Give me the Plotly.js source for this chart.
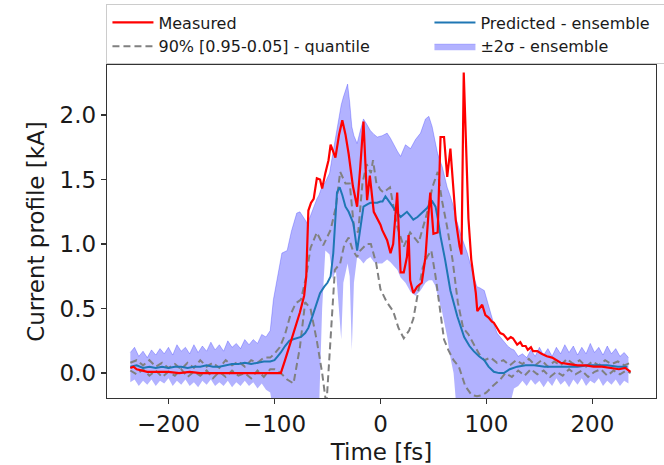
<!DOCTYPE html>
<html>
<head>
<meta charset="utf-8">
<script src="https://cdn.plot.ly/plotly-3.0.1.min.js"></script>
<style>html,body{margin:0;padding:0;background:#fff;}#chart{width:664px;height:465px;}</style>
</head>
<body>
<div id="chart"></div>
<script>
// ---- Measured current profile ----
const tMeasured = [-236,-233,-230,-226,-220,-210,-200,-190,-180,-170,-160,-150,-140,-130,-120,-110,-100,-94,-90,-85,-80,-76,-72,-70,-68,-65.5,-63,-60,-57,-55,-52,-49,-47,-44.5,-42.5,-39,-36,-33,-30,-26,-22,-19,-16,-12.6,-10,-6.3,-3,0,1.6,4,6.3,9.5,12,15.8,19,22,25,26.6,28,31,34.6,39,42.5,45,47,50,54,56.7,60,63,66,71,74.7,76.5,78.6,83,85.7,90,91.4,96,99,102,105,107,110,113,116,120,123,125,129,132,134,137,139,142,144,148,152,157,162,166,170,178,186,194,201,209,217,225,231,236];
const measured = [0.04,0.05,0.03,0.02,0.01,0.01,0.01,0.0,0.01,0.0,0.0,0.0,0.0,0.0,0.0,0.0,0.0,0.0,0.1,0.23,0.35,0.47,0.6,0.75,1.26,1.32,1.35,1.51,1.5,1.43,1.55,1.65,1.77,1.72,1.67,1.85,1.96,1.85,1.70,1.45,1.29,1.6,1.95,1.34,1.53,1.25,1.2,1.15,1.11,1.07,1.03,0.93,1.0,1.40,0.78,0.78,0.9,1.07,0.72,0.62,0.67,0.70,0.90,1.2,1.40,1.08,1.09,1.83,1.83,1.52,1.74,1.19,0.98,0.92,2.33,1.2,0.88,0.62,0.48,0.53,0.45,0.43,0.40,0.39,0.35,0.31,0.30,0.26,0.28,0.27,0.22,0.24,0.21,0.21,0.18,0.2,0.17,0.17,0.15,0.13,0.12,0.1,0.08,0.07,0.06,0.06,0.05,0.05,0.04,0.03,0.04,0.01];

// ---- Predicted (ensemble mean) ----
const tPredicted = [-236,-230,-224,-218,-212,-206,-200,-194,-188,-182,-176,-170,-164,-158,-152,-146,-140,-134,-128,-122,-116,-110,-104,-100,-97,-94,-90,-86,-83,-79,-75,-71,-68,-65,-63,-60,-57,-53,-50,-47,-44.5,-41,-38.5,-36,-33,-30,-28,-25.5,-22,-19,-16,-12,-9.5,-6,-3,0,2,4.7,8,12,16,19,22,25,28,31,35,39,44,49,52,54.5,56.7,61,66,72.5,79,84,88,93,98,102,107,112,116.5,122,129,137,145,155,164,175,186,196,206,214,224,233];
const predicted = [0.05,0.06,0.04,0.05,0.04,0.05,0.04,0.05,0.05,0.04,0.05,0.05,0.06,0.05,0.05,0.06,0.07,0.07,0.08,0.07,0.08,0.09,0.09,0.10,0.13,0.16,0.21,0.25,0.26,0.27,0.28,0.31,0.35,0.42,0.47,0.55,0.62,0.67,0.70,0.75,0.93,1.40,1.44,1.38,1.29,1.25,1.21,1.16,0.95,1.13,1.29,1.31,1.32,1.32,1.32,1.33,1.33,1.37,1.33,1.29,1.24,1.21,1.23,1.25,1.22,1.19,1.21,1.24,1.28,1.33,1.29,1.18,1.06,0.88,0.64,0.44,0.28,0.21,0.17,0.13,0.10,0.05,0.01,0.0,0.0,0.03,0.05,0.06,0.06,0.05,0.05,0.05,0.05,0.06,0.06,0.06,0.05,0.05];

// ---- 90% quantile band edges (0.95 and 0.05) ----
const tQ95 = [-236,-230,-224,-218,-212,-206,-200,-194,-188,-182,-176,-170,-164,-158,-152,-146,-140,-134,-128,-122,-116,-110,-104,-100,-95,-90,-85,-80,-75,-70,-66,-60,-54,-47,-42,-38,-33,-29,-25,-21,-17,-13,-9,-7,-4,0,3,9,16,22,28,36,44,49,54,58,63,68,73,78,83,88,93,98,104,110,116,122,128,134,140,146,152,158,164,170,176,182,188,194,200,206,212,218,224,230,236];
const q95 = [0.08,0.10,0.06,0.10,0.05,0.08,0.04,0.07,0.03,0.08,0.04,0.10,0.05,0.08,0.04,0.10,0.06,0.09,0.05,0.10,0.08,0.12,0.12,0.15,0.20,0.30,0.45,0.54,0.57,0.75,0.97,1.09,0.99,1.11,1.29,1.56,1.47,1.47,1.13,1.09,1.47,1.62,1.55,1.65,1.48,1.42,1.40,1.44,1.13,0.98,1.09,1.01,1.24,1.44,1.56,1.34,1.13,0.88,0.55,0.35,0.30,0.22,0.15,0.10,0.12,0.08,0.10,0.06,0.10,0.07,0.11,0.06,0.10,0.05,0.09,0.06,0.11,0.07,0.10,0.05,0.09,0.06,0.10,0.07,0.09,0.06,0.08];
const tQ05 = [-236,-230,-224,-218,-212,-206,-200,-194,-188,-182,-176,-170,-164,-158,-152,-146,-140,-134,-128,-122,-116,-110,-104,-100,-94,-88,-82,-76,-71,-66,-60,-55,-51,-47,-43,-38,-34,-30,-26,-22,-19,-13,-9,-4,0,6,12,17,22,27,31,36,40,44,48,52,56,60,64,69,74,80,86,91,96,100,106,113,118,124,130,136,142,148,154,160,166,172,178,184,190,196,202,208,214,220,226,232,236];
const q05 = [0.02,-0.01,0.03,-0.02,0.02,-0.03,0.01,-0.02,0.03,-0.03,0.01,-0.02,0.02,-0.04,0.01,-0.03,0.02,-0.02,0.0,-0.04,0.02,-0.03,0.03,0.03,0.0,-0.05,-0.08,0.2,0.55,0.5,0.25,0.0,-0.25,0.3,0.8,0.85,1.0,1.05,0.95,0.9,0.95,1.0,1.0,0.85,0.65,0.55,0.48,0.35,0.27,0.33,0.42,0.65,0.82,0.9,0.95,0.75,0.5,0.26,0.18,0.1,0.05,-0.1,-0.17,-0.18,-0.17,-0.15,-0.1,-0.05,0.0,-0.03,0.02,-0.02,0.03,-0.01,0.02,-0.03,0.01,-0.02,0.03,-0.01,0.02,-0.03,0.01,0.03,-0.02,0.02,-0.01,0.02,0.0];

// ---- ±2σ ensemble band ----
const tBand = [-236,-232,-228,-224,-220,-216,-212,-208,-204,-200,-196,-192,-188,-184,-180,-176,-172,-168,-164,-160,-156,-152,-148,-144,-140,-136,-132,-128,-124,-120,-116,-112,-108,-104,-101,-97,-93,-88,-84,-79,-76,-72,-69,-66,-63,-60,-58,-55,-52,-48,-45,-42,-39,-37,-35,-31,-29,-27,-25,-22,-19,-16,-13,-9.5,-6,-3,1.6,6.3,9.5,12.6,16,19,23.6,28.4,33,37.8,42.5,45.7,48.8,51.5,54,58.3,63,66,69,72,75.6,82,85,88,91,94,98,101,104,107,110,115,120,123,126,130,134,138,142,146,150,154,158,162,166,170,174,178,182,186,190,194,198,202,206,210,214,218,222,226,230,234];
const bandUpper = [0.16,0.20,0.13,0.17,0.12,0.18,0.14,0.19,0.15,0.20,0.14,0.22,0.17,0.20,0.15,0.22,0.16,0.21,0.17,0.24,0.18,0.22,0.17,0.25,0.20,0.23,0.19,0.26,0.22,0.26,0.23,0.30,0.28,0.33,0.57,0.75,0.93,0.95,1.10,1.24,1.25,1.20,1.16,1.22,1.29,1.35,1.38,1.45,1.48,1.55,1.70,1.85,2.00,2.08,2.14,2.24,2.10,1.91,1.84,1.78,1.88,1.97,1.93,1.88,1.85,1.83,1.84,1.86,1.82,1.77,1.72,1.68,1.77,1.74,1.81,1.86,1.97,1.99,1.91,1.80,1.70,1.60,1.44,1.37,1.29,1.18,1.08,0.93,0.83,0.75,0.67,0.66,0.64,0.55,0.46,0.38,0.31,0.26,0.21,0.19,0.18,0.13,0.15,0.12,0.18,0.13,0.20,0.14,0.19,0.13,0.20,0.15,0.22,0.16,0.21,0.14,0.20,0.15,0.23,0.16,0.20,0.14,0.21,0.15,0.19,0.13,0.16,0.12];
const bandLower = [-0.07,-0.05,-0.10,-0.06,-0.09,-0.05,-0.10,-0.06,-0.08,-0.04,-0.10,-0.06,-0.09,-0.05,-0.10,-0.07,-0.11,-0.06,-0.09,-0.05,-0.10,-0.07,-0.10,-0.06,-0.11,-0.07,-0.10,-0.06,-0.10,-0.07,-0.12,-0.08,-0.13,-0.15,-0.30,-0.30,-0.30,-0.30,-0.30,-0.30,-0.30,-0.30,-0.30,-0.30,-0.30,-0.30,-0.30,0.50,0.95,0.92,0.73,0.80,0.50,0.26,0.70,0.85,0.75,0.18,0.70,0.90,0.88,0.85,0.88,0.90,0.86,0.85,0.85,0.88,0.86,0.83,0.80,0.74,0.70,0.63,0.60,0.64,0.70,0.72,0.72,0.68,0.60,0.47,0.28,0.12,0.0,-0.30,-0.30,-0.30,-0.30,-0.30,-0.30,-0.30,-0.30,-0.30,-0.30,-0.30,-0.30,-0.30,-0.30,-0.22,-0.12,-0.10,-0.06,-0.10,-0.05,-0.09,-0.06,-0.11,-0.06,-0.10,-0.04,-0.09,-0.06,-0.11,-0.05,-0.09,-0.04,-0.10,-0.06,-0.08,-0.04,-0.10,-0.06,-0.09,-0.05,-0.10,-0.06,-0.08];

const xTicks = [-200,-100,0,100,200];
const yTicks = [0,0.5,1.0,1.5,2.0];

const FONT = 'DejaVu Sans, sans-serif';
const bandColor = 'rgba(0,0,255,0.3)';

const traces = [
  {x: tBand, y: bandLower, type: 'scatter', mode: 'lines', line: {width: 0, color: bandColor},
   showlegend: false, hoverinfo: 'skip'},
  {x: tBand, y: bandUpper, type: 'scatter', mode: 'lines', fill: 'tonexty', fillcolor: bandColor,
   line: {width: 0.8, color: bandColor}, name: '±2σ - ensemble', legendrank: 4},
  {x: tQ95, y: q95, type: 'scatter', mode: 'lines', line: {color: '#808080', width: 2, dash: '7px,4px'},
   name: '90% [0.95-0.05] - quantile', legendrank: 3},
  {x: tQ05, y: q05, type: 'scatter', mode: 'lines', line: {color: '#808080', width: 2, dash: '7px,4px'},
   showlegend: false},
  {x: tPredicted, y: predicted, type: 'scatter', mode: 'lines', line: {color: '#1f77b4', width: 2},
   name: 'Predicted - ensemble', legendrank: 2},
  {x: tMeasured, y: measured, type: 'scatter', mode: 'lines', line: {color: '#ff0000', width: 2.2},
   name: 'Measured', legendrank: 1}
];

const axisCommon = {
  showline: true, mirror: true, linecolor: '#333333', linewidth: 1.3,
  ticks: 'outside', ticklen: 5, tickwidth: 1.3, tickcolor: '#333333',
  showgrid: false, zeroline: false,
  tickfont: {family: FONT, size: 23, color: '#1a1a1a'}
};

const layout = {
  width: 664, height: 465,
  margin: {l: 107, r: 8, t: 65, b: 67, autoexpand: false},
  paper_bgcolor: '#ffffff', plot_bgcolor: '#ffffff',
  font: {family: FONT, color: '#1a1a1a'},
  xaxis: Object.assign({}, axisCommon, {
    range: [-258, 260], tickvals: xTicks,
    title: {text: 'Time [fs]', font: {family: FONT, size: 23, color: '#1a1a1a'}, standoff: 8}
  }),
  yaxis: Object.assign({}, axisCommon, {
    range: [-0.193, 2.388], tickvals: yTicks, tickformat: '.1f',
    title: {text: 'Current profile [kA]', font: {family: FONT, size: 23, color: '#1a1a1a'}, standoff: 8}
  }),
  legend: {
    orientation: 'h', x: -0.001, xanchor: 'left', y: 1.1817, yanchor: 'top',
    itemwidth: 41, entrywidth: 266, entrywidthmode: 'pixels',
    bgcolor: '#ffffff', bordercolor: '#cccccc', borderwidth: 1,
    font: {family: FONT, size: 16, color: '#1a1a1a'},
    traceorder: 'normal'
  },
  showlegend: true
};

Plotly.newPlot('chart', traces, layout, {displayModeBar: false, staticPlot: true});
</script>
</body>
</html>
